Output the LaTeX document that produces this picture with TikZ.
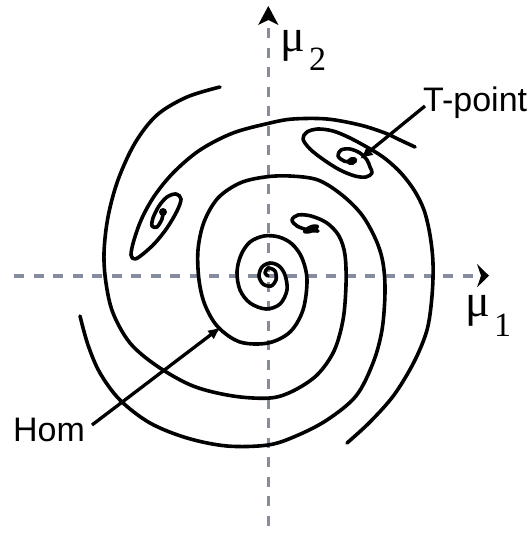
\documentclass[tikz,border=0pt]{standalone}
\usepackage{fontspec}
\setmainfont{Liberation Serif}
\newfontfamily\labelsans{Liberation Sans}
\usetikzlibrary{arrows.meta}
\definecolor{axisgray}{RGB}{134,140,158}
\begin{document}
\begin{tikzpicture}[x=1pt,y=-1pt,
  curve/.style={line width=3.6pt, line cap=round, line join=round},
  axisline/.style={draw=axisgray, line width=3.6pt, dash pattern=on 10pt off 9.5pt},
  pointer/.style={line width=3.3pt, -{Latex[length=13pt,width=11pt]}},
  lbl/.style={inner sep=0pt, anchor=base west, font=\labelsans\fontsize{34}{40}\selectfont},
  mulbl/.style={inner sep=0pt, anchor=base west, font=\fontsize{46}{52}\selectfont},
  idx/.style={inner sep=0pt, anchor=base west, font=\fontsize{34}{40}\selectfont},
]
\useasboundingbox (0,0) rectangle (527,533);

% axes
\coordinate (xstart) at (14,275.7);
\coordinate (xend) at (479,275.7);
\coordinate (ystart) at (268.3,533);
\coordinate (yend) at (268.3,28);
\draw[axisline] (xstart) -- (xend);
\draw[axisline] (yend) -- (ystart);
\fill (268.3,6) -- (278.5,25) -- (268.3,20) -- (258.1,25) -- cycle;
\fill (489,275.7) -- (477,264) -- (481,275.7) -- (477,287.4) -- cycle;

% main spiral
\draw[curve] plot[smooth, tension=0.55] coordinates {
 (80,316) (88,345) (100,373) (120,400) (150,423) (187,438) (227,446) (268,445)
 (296,436) (327,420) (356,396) (373,363) (382,330) (385,292) (383,263) (376,240)
 (362,215) (342,195) (318,180) (290,176) (265,177) (240,183) (218,198) (204,222)
 (198,250) (199,280) (205,305) (218,327) (240,342) (268,343) (290,332) (303,310)
 (307,280) (302,258) (292,244) (279,237) (264,236) (250,242) (241,255) (237,272)
 (240,290) (250,303) (266,309) (280,304) (287,290) (285,275) (279,266) (270,263)
 (262,267) (259,276) (263,284) (271,286) (276,280) (275,271) (268,268) (265,273) (268,276)};

% outer arc ending in the hook
\draw[curve] plot[smooth, tension=0.55] coordinates {
 (220,87) (187,97) (157,115) (135,143) (118,180) (108,217) (104,253) (106,283)
 (113,313) (130,343) (157,366) (193,386) (233,396) (270,398) (293,391) (317,375)
 (334,351) (343,320) (346,285) (345,255) (339,236) (327,223) (311,216) (298,215)
 (292,220) (297,226) (308,230) (318,231)};
\fill[rotate around={22:(311,229)}] (311,229) ellipse[x radius=8.5pt, y radius=3.8pt];

% T-point spiral
\draw[curve] plot[smooth, tension=0.55] coordinates {
 (352,162) (344,161) (338,156) (341,150) (350,149) (360,153) (367,160) (370,167)
 (372,173) (366,177) (355,176) (340,170) (324,160) (310,149) (303,139) (307,132)
 (318,129) (333,131) (348,137) (365,146) (383,157) (400,172) (414,190) (424,210)
 (430,235) (433,263) (432,296) (427,330) (414,362) (394,395) (370,422) (347,443)};
\fill[rotate around={20:(352,161)}] (352,161) ellipse[x radius=5.5pt, y radius=4pt];

% top arc ending in the upper-left loop
\draw[curve] plot[smooth, tension=0.55] coordinates {
 (415,147) (400,140) (385,133) (360,125) (327,119) (293,119) (270,123) (233,133)
 (200,150) (174,172) (155,195) (142,218) (134,240) (131,255) (135,259) (143,254)
 (155,243) (167,228) (177,211) (181,199) (176,194) (167,197) (159,206) (153,218)
 (152,226) (157,227) (162,219) (163,213)};
\fill (163,212) circle[radius=4pt];

% labels
\node[lbl] (hom) at (13,441) {Hom};
\node[lbl] (tpoint) at (423,111) {T-point};
\node[mulbl] (mu2) at (280,51) {μ};
\node[idx] (sub2) at (309,70) {2};
\node[mulbl] (mu1) at (465,316) {μ};
\node[idx] (sub1) at (494,336) {1};

% pointers
\coordinate (homtail) at (92,425);
\coordinate (homtip) at (221,327);
\draw[pointer] (homtail) -- (homtip);
\coordinate (tptail) at (425,106);
\coordinate (tptip) at (360,159);
\draw[pointer] (tptail) -- (tptip);
\end{tikzpicture}
\end{document}
